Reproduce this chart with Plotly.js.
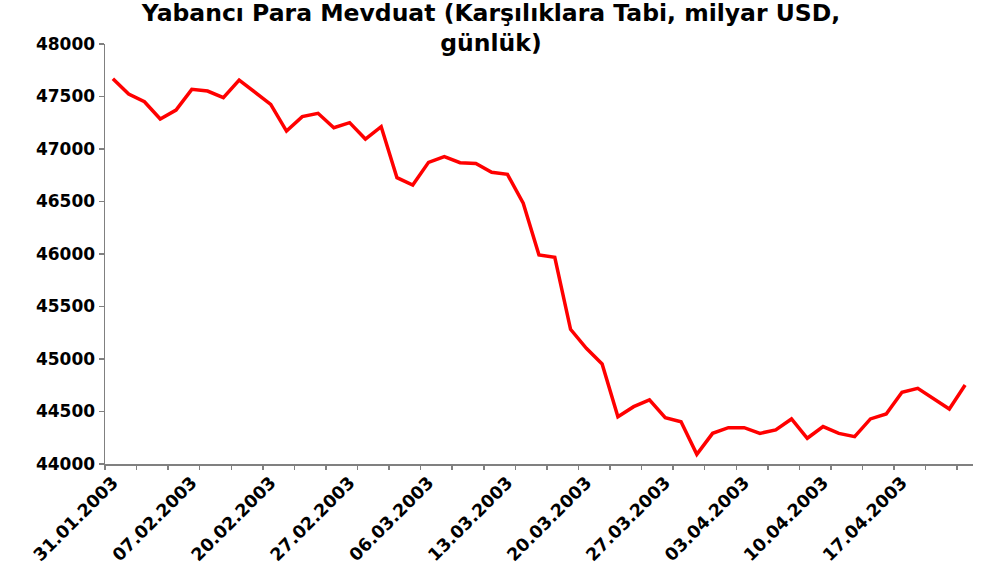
<!DOCTYPE html>
<html>
<head>
<meta charset="utf-8">
<script src="https://cdn.plot.ly/plotly-3.0.1.min.js"></script>
<style>html,body{margin:0;padding:0;background:#fff}#chart{width:982px;height:566px}</style>
</head>
<body>
<div id="chart"></div>
<script>
const dates = [
  "31.01.2003","03.02.2003","04.02.2003","05.02.2003","06.02.2003",
  "07.02.2003","10.02.2003","17.02.2003","18.02.2003","19.02.2003",
  "20.02.2003","21.02.2003","24.02.2003","25.02.2003","26.02.2003",
  "27.02.2003","28.02.2003","03.03.2003","04.03.2003","05.03.2003",
  "06.03.2003","07.03.2003","10.03.2003","11.03.2003","12.03.2003",
  "13.03.2003","14.03.2003","17.03.2003","18.03.2003","19.03.2003",
  "20.03.2003","21.03.2003","24.03.2003","25.03.2003","26.03.2003",
  "27.03.2003","28.03.2003","31.03.2003","01.04.2003","02.04.2003",
  "03.04.2003","04.04.2003","07.04.2003","08.04.2003","09.04.2003",
  "10.04.2003","11.04.2003","14.04.2003","15.04.2003","16.04.2003",
  "17.04.2003","18.04.2003","21.04.2003","22.04.2003","24.04.2003"
];
const deposits = [
  47670, 47524, 47450, 47286, 47371,
  47568, 47552, 47489, 47657, 47540,
  47425, 47171, 47308, 47340, 47203,
  47251, 47095, 47213, 46727, 46657,
  46873, 46927, 46870, 46863, 46778,
  46759, 46483, 45990, 45968, 45283,
  45102, 44952, 44450, 44546, 44610,
  44441, 44403, 44092, 44292, 44346,
  44346, 44292, 44324, 44429, 44245,
  44356, 44292, 44260, 44429, 44476,
  44683, 44721, 44625, 44524, 44752
];
const labelDates = dates.filter((d, i) => i % 5 === 0);
const titleText = "Yabancı Para Mevduat (Karşılıklara Tabi, milyar USD,<br>günlük)";

const font = {family: "DejaVu Sans, Verdana, sans-serif", color: "#000"};
const axisGray = "#808080";

const traces = [
  {
    x: dates, y: deposits, type: "scatter", mode: "lines",
    line: {color: "#FF0000", width: 3.5},
    xaxis: "x", yaxis: "y", hoverinfo: "x+y", showlegend: false
  },
  {
    x: [0], y: [null], type: "scatter", mode: "lines",
    xaxis: "x2", yaxis: "y", showlegend: false, hoverinfo: "skip"
  }
];

const layout = {
  width: 982, height: 566,
  margin: {l: 105, r: 9, t: 44, b: 102},
  paper_bgcolor: "#fff", plot_bgcolor: "#fff",
  font: font,
  showlegend: false,
  title: {
    text: titleText,
    font: {family: font.family, size: 23.5, weight: "bold", color: "#000"},
    x: 0.5, xref: "container", xanchor: "center",
    y: 0.963, yref: "container", yanchor: "top"
  },
  xaxis: {
    type: "category",
    range: [-0.5, dates.length - 0.5],
    tickmode: "array", tickvals: labelDates, ticktext: labelDates,
    tickangle: -45, ticks: "",
    tickfont: {family: font.family, size: 17.5, weight: "bold", color: "#000"},
    showline: true, linecolor: axisGray, linewidth: 1.5,
    showgrid: false, zeroline: false, fixedrange: true
  },
  xaxis2: {
    overlaying: "x", anchor: "y", type: "linear",
    range: [-0.5, dates.length - 0.5],
    tickmode: "linear", tick0: -0.5, dtick: 2,
    ticks: "outside", ticklen: 5, tickwidth: 1.5, tickcolor: axisGray,
    showticklabels: false, showline: false, showgrid: false, zeroline: false
  },
  yaxis: {
    range: [44000, 48000],
    tickmode: "linear", tick0: 44000, dtick: 500,
    ticks: "outside", ticklen: 5, tickwidth: 1.5, tickcolor: axisGray,
    tickfont: {family: font.family, size: 17, weight: "bold", color: "#000"},
    showline: true, linecolor: axisGray, linewidth: 1.5,
    showgrid: false, zeroline: false,
    tickformat: "d"
  }
};

Plotly.newPlot("chart", traces, layout, {displayModeBar: false, staticPlot: true});
</script>
</body>
</html>
